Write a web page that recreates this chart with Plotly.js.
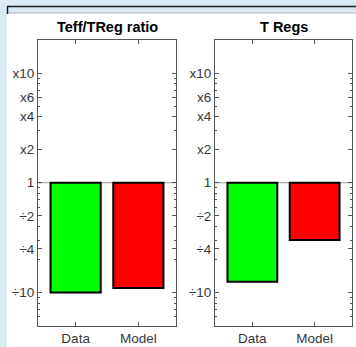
<!DOCTYPE html>
<html>
<head>
<meta charset="utf-8">
<script src="https://cdn.plot.ly/plotly-3.0.1.min.js"></script>
<style>html,body{margin:0;padding:0;background:#daeaf5;}#chart{width:356px;height:347px;}</style>
</head>
<body>
<div id="chart"></div>
<script>
// ---- data ----
const categories = ['Data', 'Model'];
const ratioValues = [0.10, 0.11];     // Teff/TReg ratio (fold change)
const tregValues = [0.125, 0.30];     // T Regs (fold change)
const barColors = ['#00ff00', '#ff0000'];
const panelTitles = ['Teff/TReg ratio', 'T Regs'];
const yTickVals = [0.1, 0.25, 0.5, 1, 2, 4, 6, 10];
const yTickText = ['\u00f710', '\u00f74', '\u00f72', '1', 'x2', 'x4', 'x6', 'x10'];
const minorVals = [0.06, 0.07, 0.08, 0.09, 0.2, 0.3, 0.4, 0.6, 0.7, 0.8, 0.9, 3, 5, 7, 8, 9];

const W = 356, H = 347;
const px = v => v / W, py = v => 1 - v / H;

function barTrace(vals, xa, ya) {
  return {
    type: 'bar', x: categories, base: 1, y: vals.map(v => v - 1),
    xaxis: xa, yaxis: ya, width: 0.8,
    marker: {color: barColors, line: {color: '#000000', width: 2}},
    hoverinfo: 'skip', showlegend: false
  };
}

const axColor = '#555555';
const tickFont = {family: 'Liberation Sans, Arial, sans-serif', size: 13.5, color: '#383838'};
function xAxis(domain) {
  return {
    domain: domain, type: 'category', range: [-0.6, 1.6],
    showline: true, linecolor: axColor, linewidth: 1, mirror: 'ticks',
    ticks: 'inside', ticklen: 4, tickcolor: axColor, tickfont: tickFont,
    showgrid: false, zeroline: false, fixedrange: true
  };
}
function yAxis(domain, anchor) {
  return {
    domain: domain, anchor: anchor, type: 'log', range: [Math.log10(1/20), Math.log10(20)],
    showline: true, linecolor: axColor, linewidth: 1, mirror: 'ticks',
    ticks: 'inside', ticklen: 4, tickcolor: axColor, tickfont: tickFont,
    tickmode: 'array', tickvals: yTickVals, ticktext: yTickText,
    minor: {tickmode: 'array', tickvals: minorVals, ticks: 'inside', ticklen: 2, tickcolor: axColor, showgrid: false},
    showgrid: false, zeroline: false, fixedrange: true
  };
}

const yDom = [py(325.5), py(40)];
const titleFont = {family: 'Liberation Sans, Arial, sans-serif', size: 14.5, color: '#000000'};
const layout = {
  width: W, height: H,
  margin: {l: 0, r: 0, t: 0, b: 0},
  paper_bgcolor: '#daeaf5', plot_bgcolor: '#ffffff',
  bargap: 0.2,
  xaxis: xAxis([px(38), px(176)]),
  yaxis: yAxis(yDom, 'x'),
  xaxis2: Object.assign(xAxis([px(215), px(352)]), {anchor: 'y2'}),
  yaxis2: yAxis(yDom, 'x2'),
  shapes: [
    {type: 'rect', xref: 'paper', yref: 'paper', x0: px(7), x1: 1, y0: 0, y1: py(13), fillcolor: '#ffffff', line: {width: 0}, layer: 'below'},
    {type: 'line', xref: 'paper', yref: 'paper', x0: px(8), x1: 1, y0: py(13), y1: py(13), line: {color: '#a8b4bc', width: 1}},
    {type: 'line', xref: 'paper', yref: 'paper', x0: px(7), x1: 1, y0: py(6.5), y1: py(6.5), line: {color: '#1a1a1a', width: 1.5}},
    {type: 'line', xref: 'paper', yref: 'paper', x0: px(7.5), x1: px(7.5), y0: py(6), y1: py(14), line: {color: '#1a1a1a', width: 1.5}},
    {type: 'line', xref: 'x domain', yref: 'y', x0: 0, x1: 1, y0: 1, y1: 1, line: {color: '#9a9a9a', width: 1}, layer: 'below'},
    {type: 'line', xref: 'x2 domain', yref: 'y2', x0: 0, x1: 1, y0: 1, y1: 1, line: {color: '#9a9a9a', width: 1}, layer: 'below'}
  ],
  annotations: [
    {text: '<b>' + panelTitles[0] + '</b>', xref: 'paper', yref: 'paper', x: px(107), y: py(27.5), xanchor: 'center', yanchor: 'middle', showarrow: false, font: titleFont},
    {text: '<b>' + panelTitles[1] + '</b>', xref: 'paper', yref: 'paper', x: px(283.5), y: py(27.5), xanchor: 'center', yanchor: 'middle', showarrow: false, font: titleFont}
  ]
};

Plotly.newPlot('chart', [barTrace(ratioValues, 'x', 'y'), barTrace(tregValues, 'x2', 'y2')], layout, {staticPlot: true, displayModeBar: false});
</script>
</body>
</html>
